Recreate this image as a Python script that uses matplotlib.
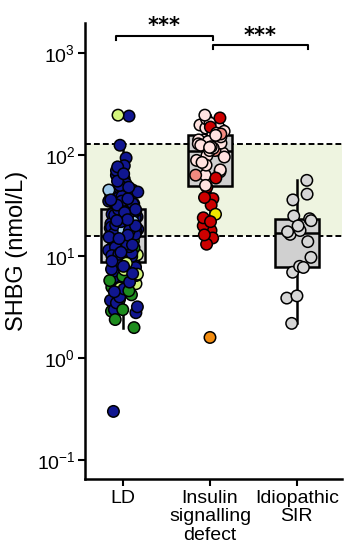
import numpy as np
import matplotlib
matplotlib.use("Agg")
import matplotlib.pyplot as plt
from matplotlib import cbook

plt.rcParams['font.family'] = ['Liberation Sans', 'DejaVu Sans']
plt.rcParams['mathtext.fontset'] = 'custom'
plt.rcParams['mathtext.rm'] = 'Liberation Sans'
plt.rcParams['mathtext.it'] = 'Liberation Sans:italic'
plt.rcParams['mathtext.bf'] = 'Liberation Sans:bold'
plt.rcParams['axes.unicode_minus'] = False

# ---------------- data ----------------
categories = ["LD", "Insulin\nsignalling\ndefect", "Idiopathic\nSIR"]

ld_navy = [240, 124, 93, 76, 78, 70, 65, 63, 58, 55, 52, 50, 48, 46, 45, 44, 43, 42, 41, 40,
           39, 38, 38, 37, 36, 35, 35, 34, 33, 33, 32, 32, 31, 30, 30,
           29, 28.5, 28, 27.5, 27, 26, 25.5, 25, 24, 23.5, 23, 22.5, 22, 21, 20.5, 20, 19.5,
           19, 18.5, 18, 17.5, 17, 16.5, 16.2, 29, 26.5, 24.5, 21.5, 19, 17, 16.8,
           15.5, 15, 14.5, 14, 13.5, 13, 12.5, 12, 11.5, 11, 10.5, 10, 9.5, 9.2, 14.8, 12.8,
           11.2, 10.2, 9.0, 13.2, 15.8, 13.8, 12.3, 10.8, 9.4,
           8.5, 8.0, 7.5, 7.2, 6.8, 6.5, 6.0, 5.6, 5.2, 4.8, 4.5, 4.0, 3.7, 3.5, 3.2, 3.0, 2.8,
           0.3, 7.8, 6.2]
ld_green = [17, 14.2, 11.8, 10.8, 9.8, 12.2, 8.2, 7.0, 6.4, 5.8, 5.0, 4.6, 4.2, 3.8, 3.0,
            2.9, 2.4, 2.0]
ld_lightgreen = [245, 27, 21, 14, 12.6, 11.4, 10.4, 9.6, 13.6, 8.9, 8.6, 7.4, 6.7, 5.4, 4.9]
ld_lightblue = [45, 28, 22, 18]

ins_pink = [245, 196, 205, 183, 163, 160, 170, 130, 140, 124, 116, 120, 95, 104, 98, 79, 71,
            68, 63, 50, 150, 175, 135, 110, 88, 140, 155, 190, 225, 118, 128, 84]
ins_red = [230, 187, 59, 48, 37, 38, 32, 24, 22, 20, 18, 16.3, 15.2, 13.2]
ins_salmon = [160, 63, 110]
ins_yellow = [26]
ins_orange = [1.6]

idio_grey = [2.2, 3.9, 4.1, 7.0, 7.8, 8.0, 9.8, 14, 16.5, 17.5, 18, 20, 22.5, 23.5, 25, 36,
             41, 56]

ref_low, ref_high = 16, 127

ld_groups = [(ld_lightgreen, '#D4F57C'), (ld_green, '#1E8C1E'), (ld_lightblue, '#9CC8EA'),
             (ld_navy, '#101690')]
ins_groups = [(ins_pink, '#FFE2E0'), (ins_salmon, '#F28A80'), (ins_red, '#CC0000'),
              (ins_yellow, '#F2E600'), (ins_orange, '#F28C10')]
idio_groups = [(idio_grey, '#D6D6D6')]
all_groups = [ld_groups, ins_groups, idio_groups]

# ---------------- figure ----------------
fig = plt.figure(figsize=(3.54, 5.54), dpi=100)
ax = fig.add_axes([85/354, 75/554, 257/354, 456/554])
ax.set_yscale('log')
ax.set_ylim(0.065, 1972)
ax.set_xlim(-0.44, 2.52)

# reference band
ax.axhspan(ref_low, ref_high, color='#EEF4E0', zorder=0, lw=0)
for v in (ref_low, ref_high):
    ax.axhline(v, color='black', lw=1.4, ls=(0, (3, 1.6)), zorder=1)

# boxplots computed in log space
stats = []
for groups in all_groups:
    vals = np.concatenate([np.asarray(g, float) for g, _ in groups])
    st = cbook.boxplot_stats(np.log10(vals), whis=1.5)[0]
    for k in ('med', 'q1', 'q3', 'whislo', 'whishi'):
        st[k] = 10 ** st[k]
    st['fliers'] = []
    stats.append(st)
positions = np.arange(len(categories))
ax.bxp(stats, positions=positions, widths=0.5, patch_artist=True, showfliers=False,
       showcaps=False,
       boxprops=dict(facecolor='#D0D0D0', edgecolor='black', linewidth=1.8),
       whiskerprops=dict(color='black', linewidth=1.8),
       medianprops=dict(color='black', linewidth=1.8), zorder=2)

# jittered points: deterministic quadratic Weyl-sequence offsets
half = 0.17
for pos, groups in zip(positions, all_groups):
    vals = np.array([v for g, _ in groups for v in g], float)
    cols = [c for g, c in groups for _ in g]
    idx = np.arange(len(vals), dtype=float) + 1
    frac = (idx * idx * 0.7548776662 + idx * 0.5698402910) % 1.0
    xs = pos + (frac - 0.5) * 2 * half
    draw = np.argsort((idx * idx * 0.3819660113 + idx * 0.2360679775) % 1.0)
    ax.scatter(xs[draw], vals[draw], s=68, c=[cols[j] for j in draw],
               edgecolors='black', linewidths=1.1, zorder=3, clip_on=False)

# significance brackets
ax.plot([-0.08, -0.08, 1.03, 1.03], [1342, 1469, 1469, 1342], color='black', lw=1.5,
        clip_on=False, zorder=4)
ax.plot([1.03, 1.03, 2.13, 2.13], [1094, 1199, 1199, 1094], color='black', lw=1.5,
        clip_on=False, zorder=4)
ax.text(0.47, 1842, "***", ha='center', va='center', fontsize=15, fontweight='bold',
        family='DejaVu Sans', clip_on=False)
ax.text(1.575, 1469, "***", ha='center', va='center', fontsize=15, fontweight='bold',
        family='DejaVu Sans', clip_on=False)

# axes styling
ax.set_yticks([0.1, 1, 10, 100, 1000])
ax.yaxis.set_minor_locator(matplotlib.ticker.NullLocator())
ax.set_xticks(positions)
ax.set_xticklabels(categories, fontsize=14, linespacing=1.1)
ax.tick_params(axis='y', labelsize=14, width=1.5, length=5, pad=2)
ax.tick_params(axis='x', width=1.5, length=5, pad=3)
for s in ('top', 'right'):
    ax.spines[s].set_visible(False)
for s in ('left', 'bottom'):
    ax.spines[s].set_linewidth(1.8)
ax.set_ylabel("SHBG (nmol/L)", fontsize=17, labelpad=6)

fig.savefig("out.png", dpi=100)
